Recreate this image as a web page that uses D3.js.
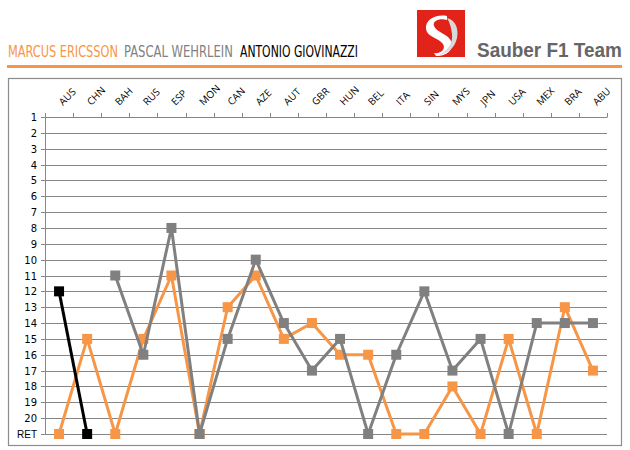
<!DOCTYPE html>
<html>
<head>
<meta charset="utf-8">
<script src="https://cdn.jsdelivr.net/npm/d3@7"></script>
<style>
  body { margin: 0; background: #fff; }
</style>
</head>
<body>
<div id="chart"></div>
<script>
// races of the season, in order
var races = ["AUS", "CHN", "BAH", "RUS", "ESP", "MON", "CAN", "AZE", "AUT", "GBR",
             "HUN", "BEL", "ITA", "SIN", "MYS", "JPN", "USA", "MEX", "BRA", "ABU"]

// finishing positions, 21 = retired (RET), null = did not race
var ericsson  = [21, 15, 21, 15, 11, 21, 13, 11, 15, 14, 16, 16, 21, 21, 18, 21, 15, 21, 13, 17]
var wehrlein  = [null, null, 11, 16, 8, 21, 15, 10, 14, 17, 15, 21, 16, 12, 17, 15, 21, 14, 14, 14]
var giovinazzi = [12, 21, null, null, null, null, null, null, null, null,
                  null, null, null, null, null, null, null, null, null, null]

var posTicks = d3.range(1, 22)
var posLabels = ["1", "2", "3", "4", "5", "6", "7", "8", "9", "10",
                 "11", "12", "13", "14", "15", "16", "17", "18", "19", "20", "RET"]

var drivers = [
  { name: "MARCUS ERICSSON",    values: ericsson,   color: "#F79646" },
  { name: "PASCAL WEHRLEIN",    values: wehrlein,   color: "#808080" },
  { name: "ANTONIO GIOVINAZZI", values: giovinazzi, color: "#000000" }
]

var svg = d3.select("#chart").append("svg")
  .attr("width", 630)
  .attr("height", 450)

// squeeze a text horizontally so it fills a given width
function fitWidth(sel, x, y, w) {
  var natural = sel.node().getComputedTextLength()
  sel.attr("transform", "translate(" + x + "," + y + ") scale(" + (w / natural) + ",1)")
}

// ---- header ----
var titleX = [8, 124, 240]
var titleW = [110, 109, 118]
drivers.forEach(function(d, i) {
  var t = svg.append("text")
    .attr("fill", d.color)
    .style("font-family", "'DejaVu Sans Condensed', 'Liberation Sans Narrow', sans-serif")
    .style("font-size", "16px")
    .text(d.name)
  fitWidth(t, titleX[i], 57, titleW[i])
})

svg.append("line")
  .attr("x1", 7).attr("x2", 622)
  .attr("y1", 66.5).attr("y2", 66.5)
  .attr("stroke", "#F79646")
  .attr("stroke-width", 3)

// logo
var logo = svg.append("g").attr("transform", "translate(417,10)")
logo.append("rect")
  .attr("width", 48).attr("height", 47)
  .attr("fill", "#E2231A")
logo.append("path")
  .attr("d", "M30,6 C18,4 8,10 9,19 C10,27 22,28 26,34 C29,39 24,44 17,43 L19,46 C30,46 37,40 34,31 C31,24 19,22 17,16 C15,10 24,8 30,10 Z")
  .attr("fill", "#ffffff")
logo.append("path")
  .attr("d", "M30,8 C38,10 42,18 40,28 C38,38 30,44 22,45 C32,40 36,32 35,24 C34,16 32,11 30,8 Z")
  .attr("fill", "#d9d9d9")
var brand = svg.append("text")
  .attr("fill", "#666666")
  .style("font-family", "'Liberation Sans', Arial, sans-serif")
  .style("font-weight", "bold")
  .style("font-size", "20.5px")
  .text("Sauber F1 Team")
fitWidth(brand, 477, 57, 145)

// ---- chart ----
svg.append("rect")
  .attr("x", 8.5).attr("y", 78.5)
  .attr("width", 613).attr("height", 367)
  .attr("fill", "none")
  .attr("stroke", "#8c8c8c")
  .attr("stroke-width", 1.2)

var x = d3.scalePoint()
  .domain(races)
  .range([45, 607])
  .padding(0.5)

var y = d3.scaleLinear()
  .domain([1, 21])
  .range([117, 434])

var step = x.step()

// gridlines
svg.append("g").selectAll("line")
  .data(posTicks)
  .enter()
  .append("line")
  .attr("x1", 41).attr("x2", 607)
  .attr("y1", function(d) { return Math.round(y(d)) + 0.5 })
  .attr("y2", function(d) { return Math.round(y(d)) + 0.5 })
  .attr("stroke", "#868686")
  .attr("stroke-width", 1)

// y axis line
svg.append("line")
  .attr("x1", 45.5).attr("x2", 45.5)
  .attr("y1", 117).attr("y2", 435)
  .attr("stroke", "#868686")

// top tick marks between categories
svg.append("g").selectAll("line")
  .data(d3.range(races.length + 1))
  .enter()
  .append("line")
  .attr("x1", function(i) { return Math.round(45 + i * step) + 0.5 })
  .attr("x2", function(i) { return Math.round(45 + i * step) + 0.5 })
  .attr("y1", 113).attr("y2", 117.5)
  .attr("stroke", "#868686")

// y labels
svg.append("g").selectAll("text")
  .data(posTicks)
  .enter()
  .append("text")
  .attr("x", 37)
  .attr("y", function(d) { return y(d) + 4 })
  .attr("text-anchor", "end")
  .attr("fill", "#000")
  .style("font-family", function(d) { return d == 21 ? "'Liberation Sans', Arial, sans-serif" : "'DejaVu Sans', Verdana, sans-serif" })
  .style("font-size", "10px")
  .text(function(d, i) { return posLabels[i] })

// x labels, rotated 45 degrees
svg.append("g").selectAll("text")
  .data(races)
  .enter()
  .append("text")
  .attr("transform", function(d) { return "translate(" + (x(d) + 4) + ",106) rotate(-45)" })
  .attr("fill", "#000")
  .style("font-family", "'Open Sans', 'Segoe UI', sans-serif")
  .style("font-size", "10px")
  .text(function(d) { return d })

// series
var line = d3.line()
  .defined(function(d) { return d != null })
  .x(function(d, i) { return x(races[i]) })
  .y(function(d) { return y(d) })

drivers.forEach(function(drv) {
  var g = svg.append("g")
  g.append("path")
    .attr("d", line(drv.values))
    .attr("fill", "none")
    .attr("stroke", drv.color)
    .attr("stroke-width", 3)
    .attr("stroke-linejoin", "round")

  g.selectAll("rect")
    .data(drv.values.map(function(v, i) { return { v: v, race: races[i] } })
      .filter(function(d) { return d.v != null }))
    .enter()
    .append("rect")
    .attr("x", function(d) { return x(d.race) - 5 })
    .attr("y", function(d) { return y(d.v) - 5 })
    .attr("width", 10)
    .attr("height", 10)
    .attr("fill", drv.color)
})
</script>
</body>
</html>
